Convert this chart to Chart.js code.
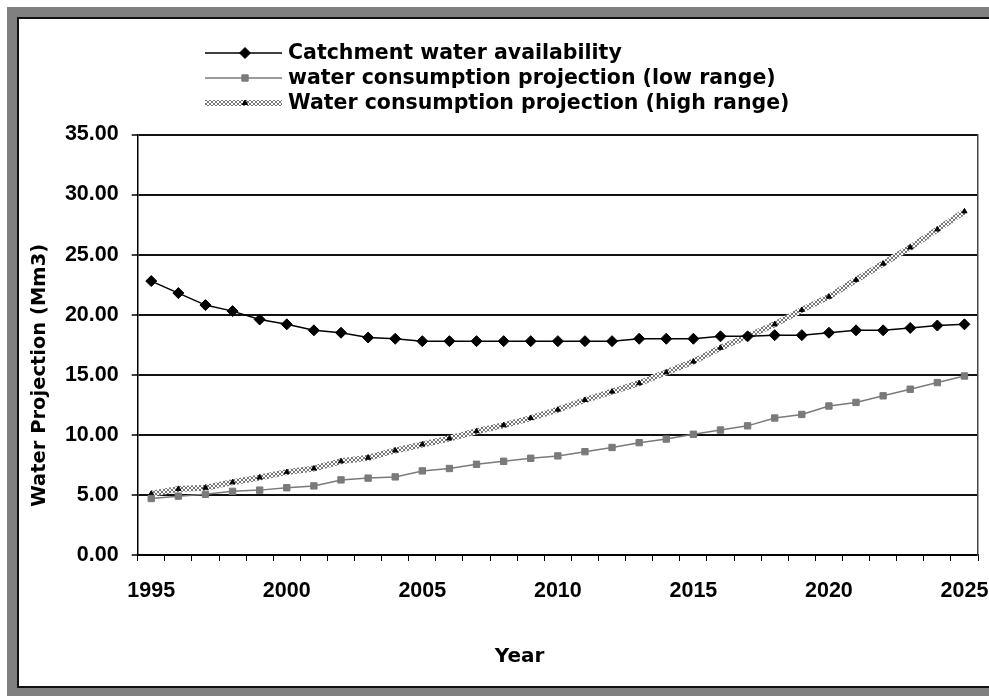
<!DOCTYPE html>
<html lang="en">

<head>
    <meta charset="UTF-8">
    <title>Water Projection</title>
    <script src="https://cdn.jsdelivr.net/npm/chart.js"></script>
    <style>
        body { margin: 0; background: #fff; overflow: hidden; }
        .frame { position: absolute; left: 7px; top: 7px; width: 990px; height: 689px; background: #808080; }
        .inner {
            position: absolute; left: 10px; top: 10px; width: 990px; height: 667px; background: #fff;
            border-left: 2px solid #111; border-top: 2px solid #111; border-bottom: 2px solid #111;
        }
        .box { position: absolute; left: 0; top: 0; width: 980px; height: 667px; }
    </style>
</head>

<body>
    <div class="frame">
        <div class="inner">
            <div class="box"><canvas id="chartWater"></canvas></div>
        </div>
    </div>

<script>
    // Anos (eixo x)
    var years = [];
    for (var y = 1995; y <= 2025; y++) years.push(String(y));
    var shownYears = ['1995', '2000', '2005', '2010', '2015', '2020', '2025'];

    // Séries (Mm3)
    var catchment = [22.8, 21.8, 20.8, 20.3, 19.6, 19.2, 18.7, 18.5, 18.1, 18.0,
        17.8, 17.8, 17.8, 17.8, 17.8, 17.8, 17.8, 17.8, 18.0, 18.0,
        18.0, 18.2, 18.2, 18.3, 18.3, 18.5, 18.7, 18.7, 18.9, 19.1, 19.2];
    var lowRange = [4.7, 4.9, 5.05, 5.3, 5.4, 5.6, 5.75, 6.25, 6.4, 6.5,
        7.0, 7.2, 7.55, 7.8, 8.05, 8.25, 8.6, 8.95, 9.35, 9.65,
        10.05, 10.4, 10.75, 11.4, 11.7, 12.4, 12.7, 13.25, 13.8, 14.35, 14.9];
    var highRange = [5.1, 5.5, 5.6, 6.05, 6.45, 6.9, 7.2, 7.8, 8.1, 8.7,
        9.2, 9.7, 10.3, 10.8, 11.4, 12.1, 12.9, 13.6, 14.3, 15.2,
        16.1, 17.25, 18.2, 19.2, 20.4, 21.5, 22.9, 24.25, 25.6, 27.1, 28.6];

    var seriesNames = ['Catchment water availability',
        'water consumption projection (low range)',
        'Water consumption projection (high range)'];

    var FONT = "'DejaVu Sans', Arial, sans-serif";
    var TICKFONT = "'Liberation Sans', Arial, sans-serif";

    // padrão xadrez da linha "high range"
    var pat = document.createElement('canvas');
    pat.width = 4; pat.height = 4;
    var pctx = pat.getContext('2d');
    pctx.fillStyle = '#777777';
    pctx.fillRect(0, 0, 4, 4);
    pctx.fillStyle = '#ffffff';
    pctx.fillRect(0, 0, 2, 2);
    pctx.fillRect(2, 2, 2, 2);
    var hatch = pctx.createPattern(pat, 'repeat');

    // legenda em coluna, desenhada no canvas
    var legendBlock = {
        id: 'legendBlock',
        afterDraw: function (chart) {
            var ctx = chart.ctx;
            var rows = [34, 59, 84];
            ctx.save();
            chart.data.datasets.forEach(function (ds, i) {
                var yy = rows[i];
                ctx.beginPath();
                ctx.strokeStyle = ds.borderColor;
                ctx.lineWidth = ds.borderWidth;
                ctx.moveTo(186, yy);
                ctx.lineTo(263, yy);
                ctx.stroke();
                ctx.fillStyle = ds.pointBackgroundColor;
                ctx.strokeStyle = ds.pointBorderColor;
                ctx.lineWidth = 1;
                Chart.helpers.drawPoint(ctx, { pointStyle: ds.pointStyle, radius: ds.pointRadius, borderWidth: 1 }, 226, yy);
                ctx.fillStyle = '#000';
                ctx.font = 'bold 20.5px ' + FONT;
                ctx.textBaseline = 'middle';
                ctx.textAlign = 'left';
                ctx.fillText(ds.label, 269, yy + 1);
            });
            ctx.restore();
        }
    };

    var ctxWater = document.getElementById('chartWater').getContext('2d');

    var chartWater = new Chart(ctxWater, {
        type: 'line',
        data: {
            labels: years,
            datasets: [
                {
                    label: seriesNames[0],
                    data: catchment,
                    borderColor: '#000',
                    borderWidth: 1.5,
                    pointStyle: 'rectRot',
                    pointRadius: 5.5,
                    pointBorderWidth: 1,
                    pointBackgroundColor: '#000',
                    pointBorderColor: '#000',
                    tension: 0
                },
                {
                    label: seriesNames[1],
                    data: lowRange,
                    borderColor: '#7a7a7a',
                    borderWidth: 1.5,
                    pointStyle: 'rect',
                    pointRadius: 4.5,
                    pointBorderWidth: 1,
                    pointBackgroundColor: '#7a7a7a',
                    pointBorderColor: '#7a7a7a',
                    tension: 0
                },
                {
                    label: seriesNames[2],
                    data: highRange,
                    borderColor: hatch,
                    borderWidth: 6,
                    pointStyle: 'triangle',
                    pointRadius: 3,
                    pointBorderWidth: 1,
                    pointBackgroundColor: '#000',
                    pointBorderColor: '#000',
                    tension: 0
                }
            ]
        },
        options: {
            responsive: true,
            maintainAspectRatio: false,
            animation: false,
            layout: { padding: { left: 0, top: 115.5, right: 21, bottom: 0 } },
            plugins: {
                legend: { display: false },
                tooltip: { enabled: false }
            },
            scales: {
                x: {
                    offset: true,
                    grid: {
                        offset: true,
                        drawOnChartArea: false,
                        drawTicks: true,
                        tickLength: 6,
                        tickColor: '#000',
                        tickWidth: 1
                    },
                    border: { color: '#000', width: 2 },
                    ticks: {
                        autoSkip: false,
                        maxRotation: 0,
                        padding: 17,
                        color: '#000',
                        font: { family: TICKFONT, weight: 'bold', size: 21.5 },
                        callback: function (v, i) {
                            var lbl = years[i];
                            return shownYears.indexOf(lbl) >= 0 ? lbl : '';
                        }
                    },
                    title: {
                        display: true,
                        text: 'Year' + '           ',
                        color: '#000',
                        font: { family: FONT, weight: 'bold', size: 20 },
                        padding: { top: 0, bottom: 17 }
                    },
                    afterFit: function (scale) {
                        scale.height = 131;
                        scale.paddingLeft = 0;
                        scale.paddingRight = 0;
                    }
                },
                y: {
                    min: 0,
                    max: 35,
                    ticks: {
                        stepSize: 5,
                        padding: 13,
                        color: '#000',
                        font: { family: TICKFONT, weight: 'bold', size: 21.5 },
                        callback: function (v) { return Number(v).toFixed(2); }
                    },
                    grid: {
                        color: '#111',
                        lineWidth: 2,
                        drawTicks: true,
                        tickLength: 6,
                        tickColor: '#000',
                        tickWidth: 1.5
                    },
                    border: { color: '#000', width: 1.5 },
                    title: {
                        display: true,
                        text: 'Water Projection (Mm3)' + '         ',
                        color: '#000',
                        font: { family: FONT, weight: 'bold', size: 19.5 },
                        padding: { top: 9, bottom: 0 }
                    },
                    afterFit: function (scale) { scale.width = 118.7; }
                },
                y2: {
                    position: 'right',
                    min: 0,
                    max: 35,
                    ticks: { display: false },
                    grid: { drawOnChartArea: false, drawTicks: false },
                    border: { color: '#444', width: 1.5 },
                    afterFit: function (scale) { scale.width = 0; }
                }
            }
        },
        plugins: [legendBlock]
    });
</script>
</body>

</html>
